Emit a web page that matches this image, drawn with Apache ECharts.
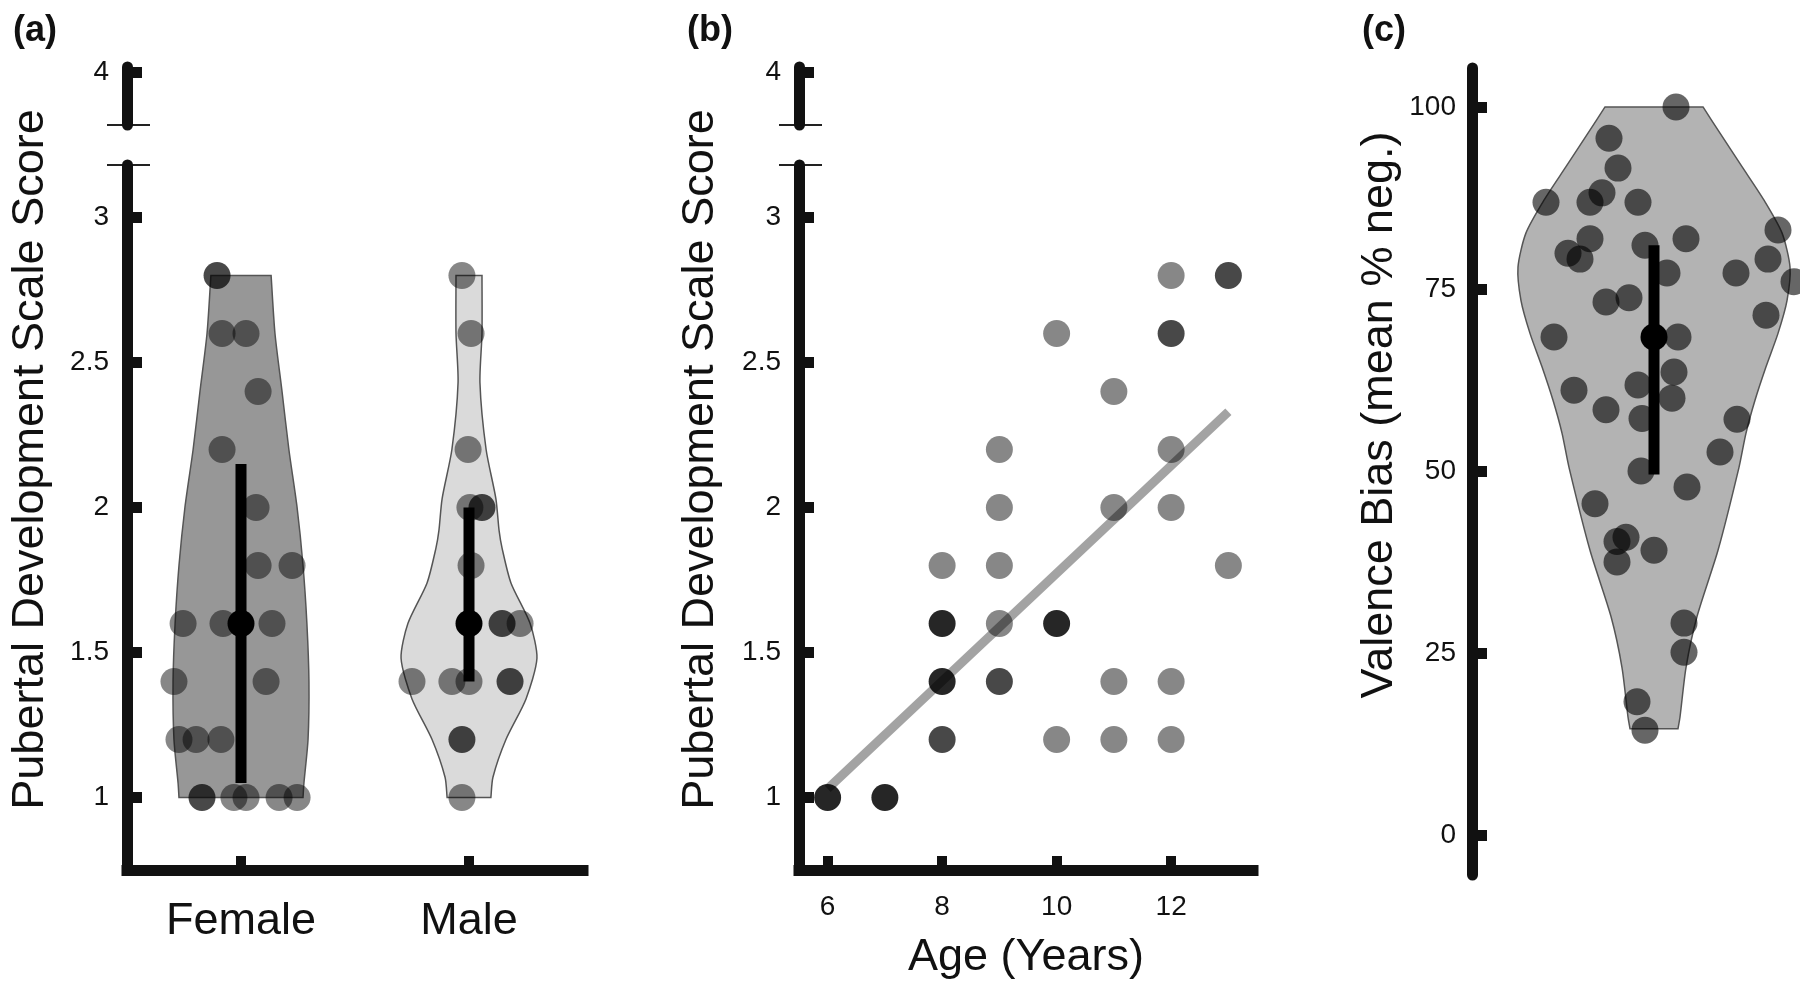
<!DOCTYPE html>
<html>
<head>
<meta charset="utf-8">
<script src="https://cdn.jsdelivr.net/npm/echarts@6.0.0/dist/echarts.min.js"></script>
<style>
  html, body { margin: 0; padding: 0; background: #fff; }
  #chart { width: 1800px; height: 992px; }
</style>
</head>
<body>
<div id="chart"></div>
<script>
const FONT = '"Liberation Sans", Arial, sans-serif';

// ---- data ----
const groupNames = ['Female', 'Male'];
const scoreTicks = [1, 1.5, 2, 2.5, 3];
const brokenTick = [4];
const ageTicks = [6, 8, 10, 12];
const biasTicks = [0, 25, 50, 75, 100];

// panel a: [jittered group position, PDS score, overlapping count]
const femalePoints = [
  [0.895, 2.8, 2], [0.917, 2.6, 1], [1.022, 2.6, 1], [1.075, 2.4, 1], [0.917, 2.2, 1],
  [1.066, 2.0, 1], [1.075, 1.8, 1], [1.224, 1.8, 1], [0.746, 1.6, 1], [0.921, 1.6, 1],
  [1.136, 1.6, 1], [0.706, 1.4, 1], [1.110, 1.4, 1], [0.728, 1.2, 1], [0.803, 1.2, 1],
  [0.912, 1.2, 1], [0.829, 1.0, 2], [0.969, 1.0, 1], [1.022, 1.0, 1], [1.167, 1.0, 1],
  [1.246, 1.0, 1]
];
const malePoints = [
  [1.969, 2.8, 1], [2.009, 2.6, 1], [1.996, 2.2, 1], [2.004, 2.0, 1], [2.057, 2.0, 2],
  [2.009, 1.8, 1], [2.145, 1.6, 2], [2.224, 1.6, 1], [1.750, 1.4, 1], [1.925, 1.4, 1],
  [2.000, 1.4, 1], [2.180, 1.4, 2], [1.969, 1.2, 2], [1.969, 1.0, 1]
];
// violin outlines: [score, half width], top to bottom
const femaleViolin = [
  [2.8, 0.132], [2.6, 0.149], [2.4, 0.18], [2.2, 0.21], [2.0, 0.246], [1.8, 0.272],
  [1.6, 0.289], [1.4, 0.298], [1.2, 0.294], [1.05, 0.276], [1.0, 0.272]
];
const maleViolin = [
  [2.8, 0.057], [2.6, 0.057], [2.43, 0.048], [2.2, 0.075], [2.03, 0.118], [1.92, 0.132],
  [1.86, 0.145], [1.74, 0.184], [1.6, 0.268], [1.48, 0.298], [1.34, 0.25], [1.2, 0.162],
  [1.07, 0.105], [1.0, 0.096]
];
// [group position, lower, upper, mean]
const groupSummary = [[1, 1.05, 2.15, 1.6], [2, 1.4, 2.0, 1.6]];

// panel b: [age, PDS score, overlapping count]
const agePoints = [
  [6, 1.0, 3], [7, 1.0, 3], [8, 1.8, 1], [8, 1.6, 3], [8, 1.4, 3], [8, 1.2, 2],
  [9, 2.2, 1], [9, 2.0, 1], [9, 1.8, 1], [9, 1.6, 1], [9, 1.4, 2], [10, 2.6, 1],
  [10, 1.6, 3], [10, 1.2, 1], [11, 2.4, 1], [11, 2.0, 1], [11, 1.4, 1], [11, 1.2, 1],
  [12, 2.8, 1], [12, 2.6, 2], [12, 2.2, 1], [12, 2.0, 1], [12, 1.4, 1], [12, 1.2, 1],
  [13, 2.8, 2], [13, 1.8, 1]
];
const ageFit = [[6, 1.03], [13, 2.33]];

// panel c: [jitter offset, valence bias]
const biasPoints = [
  [22, 100], [-45, 95.7], [-36, 91.6], [-52, 88.2], [-108, 86.9], [-64, 86.9], [-16, 86.9],
  [-64, 81.9], [32, 81.9], [124, 83.1], [-9, 81.0], [-86, 79.9], [-74, 79.1], [114, 79.1],
  [13, 77.2], [82, 77.2], [140, 76], [-48, 73.2], [-25, 73.8], [112, 71.4], [-100, 68.4],
  [24, 68.4], [20, 63.6], [-16, 61.8], [-80, 61.1], [18, 60.0], [-48, 58.4], [-12, 57.2],
  [83, 57.1], [66, 52.6], [-13, 50.0], [33, 47.8], [-59, 45.5], [-28, 40.9], [-37, 40.3],
  [-37, 37.5], [0, 39.1], [30, 29.1], [30, 25.1], [-17, 18.3], [-9, 14.4]
];
const biasViolin = [
  [100, 49], [96.4, 66], [91.8, 88], [87.2, 110], [82.7, 128], [78, 136], [73.4, 133],
  [68.9, 124], [64.3, 112], [59.7, 101], [55.2, 92], [50.5, 85], [39.1, 64], [30, 43],
  [23, 32], [16.2, 26], [14.6, 24]
];
const biasSummary = [[0, 49.5, 81, 68.4]];

// ---- layout ----
const A = { left: 127, width: 456 };
const B = { left: 799, width: 454 };
const C = { left: 1472, width: 328 };
const UP_TOP = 67, UP_H = 58, MAIN_TOP = 165, MAIN_H = 705;

const axisColor = '#111';
function solidAxis(extra) {
  return Object.assign({
    type: 'value',
    splitLine: { show: false },
    axisLine: { show: true, onZero: false, lineStyle: { color: axisColor, width: 11 } },
    axisTick: { show: true, inside: true, length: 15, lineStyle: { color: axisColor, width: 11 } },
    axisLabel: { color: axisColor, fontSize: 28, fontFamily: FONT, margin: 18 }
  }, extra);
}
function hiddenAxis(extra) {
  return Object.assign({
    type: 'value', min: 0, max: 1,
    axisLine: { show: false }, axisTick: { show: false },
    axisLabel: { show: false }, splitLine: { show: false }
  }, extra);
}
const nameStyle = { fontSize: 45, color: axisColor, fontFamily: FONT };

function stacked(alpha, n) { return 1 - Math.pow(1 - alpha, n); }

function violin(xi, yi, center, outline, fill) {
  return {
    type: 'custom', xAxisIndex: xi, yAxisIndex: yi, z: 1, silent: true,
    data: outline,
    renderItem: function (params, api) {
      if (params.dataIndex !== 0) return null;
      const right = outline.map(d => api.coord([center + d[1], d[0]]));
      const left = outline.slice().reverse().map(d => api.coord([center - d[1], d[0]]));
      // repeat the flat top / bottom corners so the smoothing keeps them sharp
      const n = right.length;
      const pts = [right[0]].concat(right.slice(0, n - 1), [right[n - 1], right[n - 1]],
        [left[0]], left.slice(0, n - 1), [left[n - 1], left[n - 1]]);
      return {
        type: 'polygon',
        shape: { points: pts, smooth: 0.25 },
        style: { fill: fill, stroke: '#555', lineWidth: 1.5 }
      };
    }
  };
}
function dots(xi, yi, rows, alpha) {
  return {
    type: 'scatter', xAxisIndex: xi, yAxisIndex: yi, z: 3, symbolSize: 27, silent: true,
    data: rows.map(r => ({ value: [r[0], r[1]], itemStyle: { color: '#000', opacity: stacked(alpha, r[2] || 1) } }))
  };
}
function errorBars(xi, yi, rows) {
  return {
    type: 'custom', xAxisIndex: xi, yAxisIndex: yi, z: 4, silent: true,
    data: rows,
    renderItem: function (params, api) {
      const lo = api.coord([api.value(0), api.value(1)]);
      const hi = api.coord([api.value(0), api.value(2)]);
      return { type: 'line', shape: { x1: lo[0], y1: lo[1], x2: hi[0], y2: hi[1] }, style: { stroke: '#000', lineWidth: 11 } };
    }
  };
}
function means(xi, yi, rows) {
  return {
    type: 'scatter', xAxisIndex: xi, yAxisIndex: yi, z: 5, symbolSize: 27, silent: true,
    itemStyle: { color: '#000', opacity: 1 },
    data: rows.map(r => [r[0], r[3]])
  };
}
function breakMarks(axisX) {
  const s = { stroke: '#222', lineWidth: 2 };
  return [
    { type: 'line', shape: { x1: axisX - 20, y1: UP_TOP + UP_H, x2: axisX + 23, y2: UP_TOP + UP_H }, style: s },
    { type: 'line', shape: { x1: axisX - 20, y1: MAIN_TOP, x2: axisX + 23, y2: MAIN_TOP }, style: s }
  ];
}

const option = {
  animation: false,
  backgroundColor: '#fff',
  title: [
    { text: '(a)', left: 8, top: 8, textStyle: { fontSize: 36, fontWeight: 'bold', fontFamily: FONT, color: '#111' } },
    { text: '(b)', left: 682, top: 8, textStyle: { fontSize: 36, fontWeight: 'bold', fontFamily: FONT, color: '#111' } },
    { text: '(c)', left: 1357, top: 8, textStyle: { fontSize: 36, fontWeight: 'bold', fontFamily: FONT, color: '#111' } }
  ],
  grid: [
    { left: A.left, width: A.width, top: UP_TOP, height: UP_H },
    { left: A.left, width: A.width, top: MAIN_TOP, height: MAIN_H },
    { left: A.left, width: A.width, top: UP_TOP - 6, height: MAIN_TOP + MAIN_H - UP_TOP - 6 },
    { left: B.left, width: B.width, top: UP_TOP, height: UP_H },
    { left: B.left, width: B.width, top: MAIN_TOP, height: MAIN_H },
    { left: B.left, width: B.width, top: UP_TOP - 6, height: MAIN_TOP + MAIN_H - UP_TOP - 6 },
    { left: C.left, width: C.width, top: 68, height: 807 },
    { left: C.left, width: C.width, top: 67, height: 696 }
  ],
  xAxis: [
    hiddenAxis({ gridIndex: 0 }),
    solidAxis({
      gridIndex: 1, min: 0.5, max: 2.5,
      axisLine: { show: true, onZero: false, lineStyle: { color: axisColor, width: 11, cap: 'square' } },
      axisTick: { show: true, inside: true, length: 14, customValues: [1, 2], lineStyle: { color: axisColor, width: 10 } },
      axisLabel: { customValues: [1, 2], formatter: v => groupNames[Math.round(v) - 1], color: axisColor, fontSize: 45, fontFamily: FONT, margin: 29 }
    }),
    hiddenAxis({ gridIndex: 2 }),
    hiddenAxis({ gridIndex: 3 }),
    solidAxis({
      gridIndex: 4, min: 5.5, max: 13.43,
      axisLine: { show: true, onZero: false, lineStyle: { color: axisColor, width: 11, cap: 'square' } },
      axisTick: { show: true, inside: true, length: 14, customValues: ageTicks, lineStyle: { color: axisColor, width: 10 } },
      axisLabel: { customValues: ageTicks, color: axisColor, fontSize: 28, fontFamily: FONT, margin: 23 },
      name: 'Age (Years)', nameLocation: 'middle', nameGap: 65, nameTextStyle: nameStyle
    }),
    hiddenAxis({ gridIndex: 5 }),
    hiddenAxis({ gridIndex: 6, min: -182, max: 146 }),
    hiddenAxis({ gridIndex: 7 })
  ],
  yAxis: [
    solidAxis({ gridIndex: 0, min: 3.817, max: 4.017,
      axisTick: { show: true, inside: true, length: 15, customValues: brokenTick, lineStyle: { color: axisColor, width: 11 } },
      axisLabel: { customValues: brokenTick, color: axisColor, fontSize: 28, fontFamily: FONT, margin: 18 } }),
    solidAxis({ gridIndex: 1, min: 0.75, max: 3.181,
      axisTick: { show: true, inside: true, length: 15, customValues: scoreTicks, lineStyle: { color: axisColor, width: 11 } },
      axisLabel: { customValues: scoreTicks, color: axisColor, fontSize: 28, fontFamily: FONT, margin: 18 } }),
    hiddenAxis({ gridIndex: 2, name: 'Pubertal Development Scale Score', nameLocation: 'middle', nameGap: 74, nameTextStyle: nameStyle }),
    solidAxis({ gridIndex: 3, min: 3.817, max: 4.017,
      axisTick: { show: true, inside: true, length: 15, customValues: brokenTick, lineStyle: { color: axisColor, width: 11 } },
      axisLabel: { customValues: brokenTick, color: axisColor, fontSize: 28, fontFamily: FONT, margin: 18 } }),
    solidAxis({ gridIndex: 4, min: 0.75, max: 3.181,
      axisTick: { show: true, inside: true, length: 15, customValues: scoreTicks, lineStyle: { color: axisColor, width: 11 } },
      axisLabel: { customValues: scoreTicks, color: axisColor, fontSize: 28, fontFamily: FONT, margin: 18 } }),
    hiddenAxis({ gridIndex: 5, name: 'Pubertal Development Scale Score', nameLocation: 'middle', nameGap: 76, nameTextStyle: nameStyle }),
    solidAxis({ gridIndex: 6, min: -5.5, max: 105.35,
      axisTick: { show: true, inside: true, length: 15, customValues: biasTicks, lineStyle: { color: axisColor, width: 11 } },
      axisLabel: { customValues: biasTicks, color: axisColor, fontSize: 28, fontFamily: FONT, margin: 16 } }),
    hiddenAxis({ gridIndex: 7, name: 'Valence Bias (mean % neg.)', nameLocation: 'middle', nameGap: 70, nameTextStyle: nameStyle })
  ],
  graphic: breakMarks(A.left).concat(breakMarks(B.left)),
  series: [
    // (a)
    violin(1, 1, 1, femaleViolin, '#979797'),
    violin(1, 1, 2, maleViolin, '#dadada'),
    dots(1, 1, femalePoints, 0.47),
    dots(1, 1, malePoints, 0.47),
    errorBars(1, 1, groupSummary),
    means(1, 1, groupSummary),
    // (b)
    {
      type: 'line', xAxisIndex: 4, yAxisIndex: 4, z: 2, silent: true,
      data: ageFit, symbol: 'none',
      lineStyle: { color: '#8c8c8c', width: 9, opacity: 0.8, cap: 'butt' }
    },
    dots(4, 4, agePoints, 0.47),
    // (c)
    violin(6, 6, 0, biasViolin, '#b3b3b3'),
    dots(6, 6, biasPoints, 0.6),
    errorBars(6, 6, biasSummary),
    means(6, 6, biasSummary)
  ]
};

const myChart = echarts.init(document.getElementById('chart'));
myChart.setOption(option);
window.addEventListener('resize', function () {
  myChart.resize();
});
</script>
</body>
</html>
